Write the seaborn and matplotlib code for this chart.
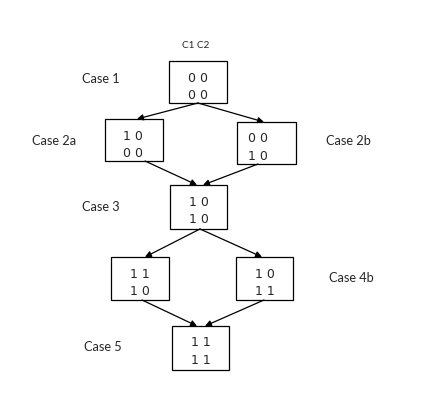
import matplotlib
matplotlib.use('Agg')
import matplotlib.pyplot as plt
from matplotlib.patches import Rectangle
import seaborn as sns

# state matrices for each case (rows: C1 C2 pairs)
case_names = ['Case 1', 'Case 2a', 'Case 2b', 'Case 3', 'Case 4a', 'Case 4b', 'Case 5']
case_states = [
    ['0 0', '0 0'],
    ['1 0', '0 0'],
    ['0 0', '1 0'],
    ['1 0', '1 0'],
    ['1 1', '1 0'],
    ['1 0', '1 1'],
    ['1 1', '1 1'],
]
# which cases get a side label
shown_labels = ['Case 1', 'Case 2a', 'Case 2b', 'Case 3', 'Case 4b', 'Case 5']
# transitions between cases
transitions = [
    ('Case 1', 'Case 2a'), ('Case 1', 'Case 2b'),
    ('Case 2a', 'Case 3'), ('Case 2b', 'Case 3'),
    ('Case 3', 'Case 4a'), ('Case 3', 'Case 4b'),
    ('Case 4a', 'Case 5'), ('Case 4b', 'Case 5'),
]
header = 'C1 C2'

# layout (pixels): box left, top, width, height, text centre x
boxes = {
    'Case 1': (169, 61, 58, 42, 198),
    'Case 2a': (105, 119, 58, 42, 133),
    'Case 2b': (237, 122, 59, 42, 257.5),
    'Case 3': (170, 185, 57, 44, 199),
    'Case 4a': (111, 257, 58, 43, 140),
    'Case 4b': (236, 257, 57, 43, 265),
    'Case 5': (172, 326, 57, 44, 201),
}
label_pos = {
    'Case 1': (82, 79), 'Case 2a': (32, 141), 'Case 2b': (326, 141),
    'Case 3': (82, 207), 'Case 4b': (329, 278), 'Case 5': (84, 347),
}
arrow_pts = {
    ('Case 1', 'Case 2a'): ((198, 103), (137, 119)),
    ('Case 1', 'Case 2b'): ((198, 103), (264, 122)),
    ('Case 2a', 'Case 3'): ((145, 161), (197, 185)),
    ('Case 2b', 'Case 3'): ((258, 164), (203, 185)),
    ('Case 3', 'Case 4a'): ((200, 229), (145, 257)),
    ('Case 3', 'Case 4b'): ((200, 229), (262, 257)),
    ('Case 4a', 'Case 5'): ((142, 300), (197, 326)),
    ('Case 4b', 'Case 5'): ((264, 300), (205, 326)),
}

sns.set_style('white')
plt.rcParams['font.family'] = ['DejaVu Sans']

fig = plt.figure(figsize=(4.3, 4.16), dpi=100)
ax = fig.add_axes([0, 0, 1, 1])
ax.set_xlim(0, 430)
ax.set_ylim(416, 0)
ax.axis('off')

for name, rows in zip(case_names, case_states):
    x, y, w, h, cx = boxes[name]
    ax.add_patch(Rectangle((x, y), w, h, fill=False, edgecolor='black', linewidth=0.9))
    ax.text(cx, y + 17, rows[0], ha='center', va='center', fontsize=9)
    ax.text(cx, y + 34.5, rows[1], ha='center', va='center', fontsize=9)

for name in shown_labels:
    lx, ly = label_pos[name]
    ax.text(lx, ly, name, ha='left', va='center', fontsize=9.2, family='Lato')

ax.text(196, 45, header, ha='center', va='center', fontsize=7.2, family='Lato')

for src, dst in transitions:
    p0, p1 = arrow_pts[(src, dst)]
    ax.annotate('', xy=p1, xytext=p0,
                arrowprops=dict(arrowstyle='-|>', color='black', lw=0.9,
                                mutation_scale=9, shrinkA=0, shrinkB=0))

plt.savefig('out.png', dpi=100)
